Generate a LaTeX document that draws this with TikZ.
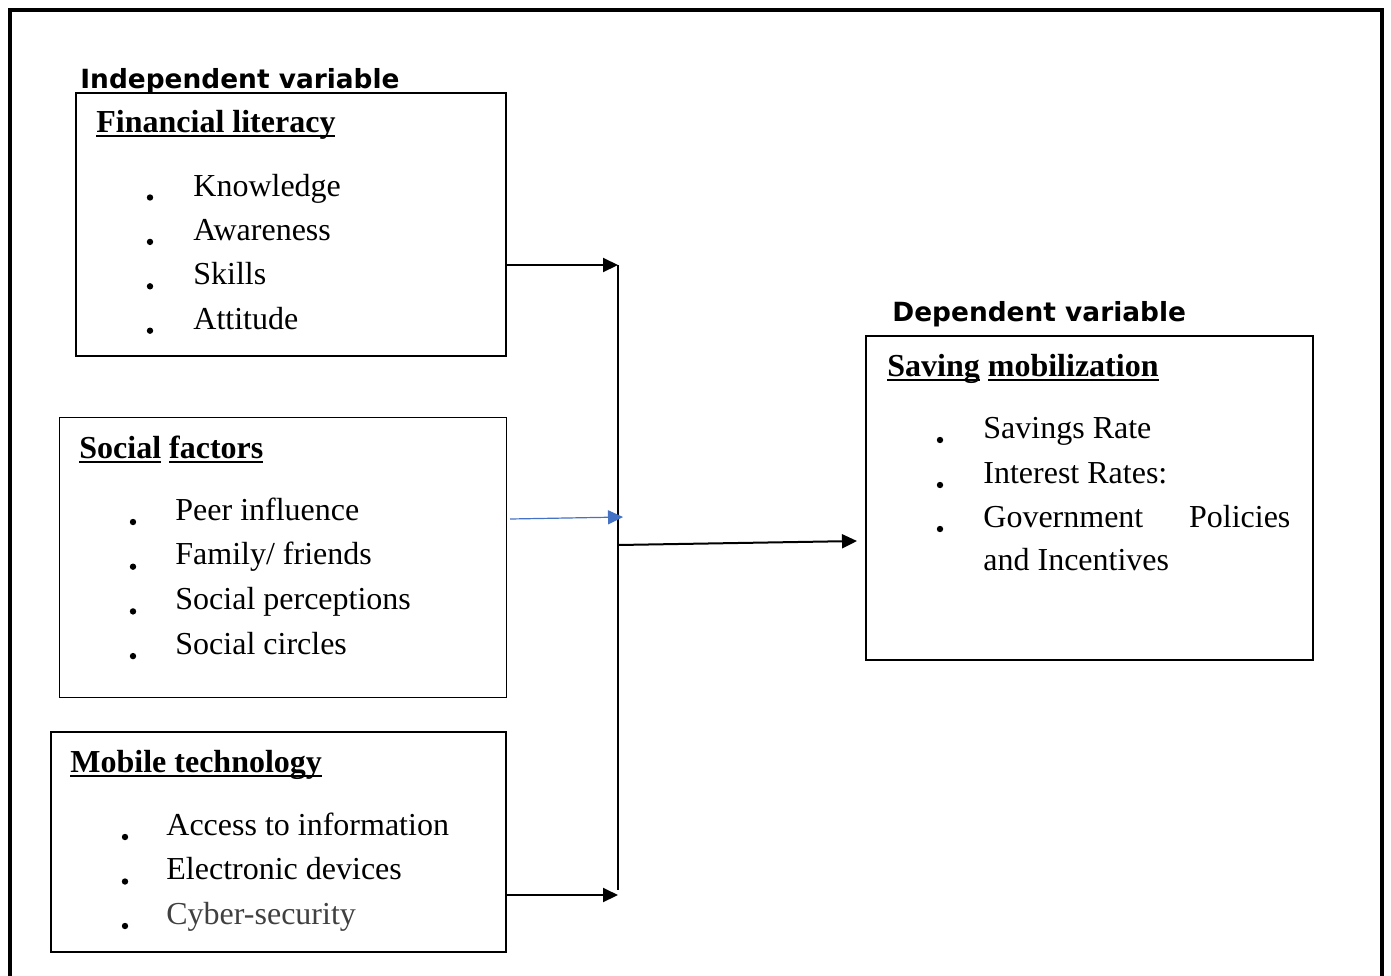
\documentclass[tikz,border=0pt]{standalone}
\usepackage{fontspec}
\setmainfont{Liberation Serif}
\newfontfamily\headfont{DejaVu Sans}
\usetikzlibrary{arrows.meta}
\definecolor{arrowblue}{RGB}{68,114,196}
\definecolor{softgray}{RGB}{64,64,64}
% underline that keeps a fixed depth below the baseline
\newcommand{\undl}[1]{\setbox0\hbox{#1}\rlap{\rule[-2.6pt]{\wd0}{0.9pt}}\box0\relax}

\begin{document}
\begin{tikzpicture}[x=0.5pt,y=-0.5pt,
    box/.style={draw,line width=0.8pt,anchor=north west,inner sep=0pt},
    head/.style={anchor=base west,inner sep=0pt,font=\headfont\bfseries\fontsize{13.2}{16}\selectfont},
    title/.style={anchor=base west,inner sep=0pt,font=\bfseries\fontsize{16}{19}\selectfont},
    item/.style={anchor=base west,inner sep=0pt,font=\fontsize{16}{19}\selectfont},
    arr/.style={line width=1pt,-{Triangle[length=7.5pt,width=7pt]}}]

    % page and outer frame (its bottom runs off the page)
    \useasboundingbox (0,0) rectangle (1391,975);
    \draw [line width=2.2pt] (10,1000) -- (10,10) -- (1382,10) -- (1382,1000);

    % headings
    \node [head] (indep) at (80,88) {Independent variable};
    \node [head] (dep) at (892,321) {Dependent variable};

    % boxes
    \node [box,minimum width=215pt,minimum height=131.5pt] (fl) at (75,92) {};
    \node [box,minimum width=223.5pt,minimum height=140pt] (sf) at (58.5,416.5) {};
    \node [box,minimum width=227.5pt,minimum height=110pt] (mt) at (50,731) {};
    \node [box,minimum width=223.5pt,minimum height=162pt] (sm) at (865,335) {};

    % box titles
    \node [title] (fltitle) at (96,132) {\undl{Financial literacy}};
    \node [title] (sftitle) at (79,458) {\undl{Social} \undl{factors}};
    \node [title] (mttitle) at (70,772) {\undl{Mobile technology}};
    \node [title] (smtitle) at (887,376) {\undl{Saving} \undl{mobilization}};

    % bullet items
    \foreach \t [count=\i] in {Knowledge,Awareness,Skills,Attitude} {
        \node [item] (fl\i) at (193,{196+44.4*(\i-1)}) {\t};
        \fill (150,{197.5+44.4*(\i-1)}) circle (1.6pt);
    }
    \foreach \t [count=\i] in {Peer influence,Family/ friends,Social perceptions,Social circles} {
        \node [item] (sf\i) at (175,{520+44.7*(\i-1)}) {\t};
        \fill (133,{522+44.7*(\i-1)}) circle (1.6pt);
    }
    \foreach \t [count=\i] in {Access to information,Electronic devices} {
        \node [item] (mt\i) at (166,{835+44.5*(\i-1)}) {\t};
        \fill (125,{837+44.5*(\i-1)}) circle (1.6pt);
    }
    \node [item,text=softgray] (mt3) at (166,924) {Cyber-security};
    \fill (125,926) circle (1.6pt);

    \node [item] (sm1) at (983,438) {Savings Rate};
    \node [item] (sm2) at (983,483) {Interest Rates:};
    \node [item] (sm3) at (983,527) {\makebox[153.5pt][s]{Government\hfill Policies}};
    \node [item] (sm4) at (983,570) {and Incentives};
    \foreach \y in {440,485,529}
        \fill (940,\y) circle (1.6pt);

    % connectors
    \coordinate (jtop) at (618,265);
    \coordinate (jbot) at (618,895);
    \coordinate (jmid) at (618,545);
    \coordinate (bluestart) at (510,519);
    \coordinate (blueend) at (623,517);
    \coordinate (smin) at (857,541);

    \draw [arr] (fl.east |- jtop) -- (jtop);
    \draw [arr] (mt.east |- jbot) -- (jbot);
    \draw [line width=1pt] (jtop) -- (618,890);
    \draw [line width=0.6pt,arrowblue,-{Triangle[length=7.5pt,width=7pt]}] (bluestart) -- (blueend);
    \draw [arr] (jmid) -- (smin);

\end{tikzpicture}
\end{document}
